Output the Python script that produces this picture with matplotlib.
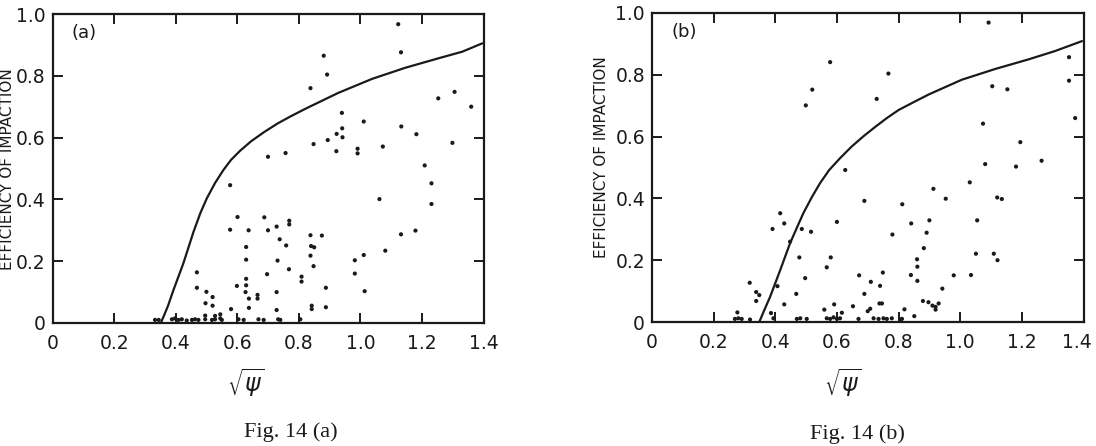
import matplotlib
matplotlib.use("Agg")
import matplotlib.pyplot as plt
from matplotlib.transforms import ScaledTranslation

# ---------------- data ----------------
# Panel (a) scattered observations
a_x = [0.838, 0.848, 0.700, 0.757, 0.577, 0.601, 0.577, 0.637, 0.688, 0.700, 0.728, 0.769, 0.769,
       0.738, 0.759, 0.838, 0.840, 0.850, 0.629, 0.629, 0.731, 0.768, 0.697, 0.838, 0.848, 0.809,
       0.809, 0.469, 0.469, 0.500, 0.520, 0.497, 0.520, 0.599, 0.629, 0.629, 0.627, 0.638, 0.666,
       0.666, 0.728, 0.728, 0.638, 0.580, 0.842, 0.842,
       1.123, 1.132, 0.881, 0.892, 1.253, 1.306, 1.360, 0.940, 1.011, 1.133, 1.182, 0.923, 0.941,
       0.942, 0.894, 0.922, 0.991, 0.991, 1.073, 1.299, 1.209, 1.231, 1.231, 1.062, 0.875, 1.132,
       1.179, 1.081, 1.011, 0.982, 0.982, 1.014, 0.888, 0.888,
       0.333, 0.388, 0.398, 0.409, 0.420, 0.436, 0.453, 0.463, 0.474, 0.496, 0.518, 0.528, 0.545,
       0.550, 0.604, 0.621, 0.669, 0.686, 0.740, 0.805, 0.496, 0.545, 0.528, 0.733, 0.345]
a_y = [0.760, 0.579, 0.538, 0.550, 0.446, 0.343, 0.302, 0.300, 0.342, 0.300, 0.312, 0.331, 0.319,
       0.271, 0.251, 0.284, 0.249, 0.245, 0.246, 0.205, 0.202, 0.174, 0.158, 0.218, 0.184, 0.150,
       0.134, 0.164, 0.114, 0.101, 0.084, 0.064, 0.056, 0.120, 0.143, 0.122, 0.100, 0.079, 0.091,
       0.079, 0.100, 0.042, 0.049, 0.045, 0.056, 0.045,
       0.967, 0.876, 0.865, 0.804, 0.727, 0.748, 0.700, 0.680, 0.652, 0.636, 0.611, 0.612, 0.630,
       0.601, 0.592, 0.556, 0.564, 0.549, 0.571, 0.583, 0.510, 0.452, 0.385, 0.401, 0.283, 0.287,
       0.299, 0.234, 0.220, 0.203, 0.160, 0.103, 0.114, 0.051,
       0.010, 0.012, 0.015, 0.010, 0.012, 0.008, 0.010, 0.012, 0.010, 0.012, 0.010, 0.012, 0.015,
       0.010, 0.012, 0.010, 0.012, 0.010, 0.010, 0.012, 0.024, 0.028, 0.023, 0.012, 0.010]

# Panel (a) theoretical curve
a_curve_x = [0.352, 0.375, 0.393, 0.425, 0.458, 0.480, 0.501, 0.528, 0.555, 0.580, 0.610, 0.645,
             0.686, 0.730, 0.772, 0.821, 0.854, 0.929, 1.038, 1.146, 1.255, 1.331, 1.396]
a_curve_y = [0.000, 0.055, 0.107, 0.193, 0.295, 0.355, 0.403, 0.453, 0.495, 0.528, 0.558, 0.588,
             0.617, 0.645, 0.668, 0.693, 0.709, 0.745, 0.790, 0.826, 0.857, 0.878, 0.905]

# Panel (b) scattered observations
b_x = [0.578, 0.767, 0.520, 0.499, 0.729, 0.627, 0.689, 0.812, 0.416, 0.429, 0.391, 0.486, 0.516,
       0.600, 0.780, 0.448, 0.478, 0.580, 0.567, 0.497, 0.672, 0.749, 0.710, 0.740, 0.689, 0.317,
       0.338, 0.348, 0.338, 0.407, 0.468, 0.429, 0.591, 0.652, 0.559, 0.738, 0.746, 0.700, 0.708,
       0.277, 0.386, 0.616,
       1.092, 1.353, 1.353, 1.373, 1.104, 1.153, 1.074, 1.195, 1.081, 1.181, 1.264, 1.031, 0.913,
       0.953, 1.120, 1.135, 0.841, 0.900, 1.055, 0.891, 0.882, 1.051, 1.109, 1.121, 0.860, 0.861,
       0.840, 0.861, 0.979, 1.035, 0.942, 0.879, 0.897, 0.910, 0.920, 0.920, 0.930, 0.819, 0.851,
       0.269, 0.280, 0.291, 0.318, 0.394, 0.470, 0.481, 0.502, 0.567, 0.578, 0.589, 0.600, 0.610,
       0.670, 0.719, 0.735, 0.751, 0.762, 0.778, 0.811, 0.805]
b_y = [0.841, 0.804, 0.752, 0.701, 0.722, 0.492, 0.392, 0.381, 0.352, 0.319, 0.301, 0.301, 0.292,
       0.324, 0.283, 0.260, 0.209, 0.209, 0.177, 0.142, 0.151, 0.160, 0.130, 0.117, 0.091, 0.127,
       0.097, 0.087, 0.068, 0.116, 0.091, 0.057, 0.057, 0.051, 0.040, 0.060, 0.060, 0.035, 0.043,
       0.031, 0.029, 0.030,
       0.969, 0.857, 0.781, 0.660, 0.763, 0.753, 0.642, 0.582, 0.511, 0.503, 0.522, 0.452, 0.431,
       0.399, 0.403, 0.398, 0.319, 0.329, 0.329, 0.289, 0.239, 0.221, 0.221, 0.200, 0.203, 0.179,
       0.152, 0.133, 0.151, 0.152, 0.108, 0.068, 0.064, 0.053, 0.049, 0.040, 0.060, 0.041, 0.019,
       0.010, 0.012, 0.010, 0.008, 0.012, 0.010, 0.012, 0.010, 0.012, 0.010, 0.015, 0.010, 0.012,
       0.010, 0.012, 0.010, 0.012, 0.010, 0.012, 0.010, 0.008]

# Panel (b) theoretical curve
b_curve_x = [0.348, 0.365, 0.383, 0.416, 0.448, 0.470, 0.491, 0.518, 0.545, 0.575, 0.610, 0.648,
             0.686, 0.725, 0.762, 0.800, 0.850, 0.897, 1.005, 1.114, 1.222, 1.308, 1.395]
b_curve_y = [0.000, 0.040, 0.081, 0.168, 0.255, 0.305, 0.352, 0.403, 0.449, 0.492, 0.530, 0.568,
             0.601, 0.632, 0.660, 0.686, 0.712, 0.736, 0.784, 0.819, 0.850, 0.877, 0.909]

x_ticks = [0, 0.2, 0.4, 0.6, 0.8, 1.0, 1.2, 1.4]
x_ticklabels = ["0", "0.2", "0.4", "0.6", "0.8", "1.0", "1.2", "1.4"]
y_ticks = [0, 0.2, 0.4, 0.6, 0.8, 1.0]
y_ticklabels = ["0", "0.2", "0.4", "0.6", "0.8", "1.0"]

ylabel = "EFFICIENCY OF IMPACTION"
panel_tags = ["(a)", "(b)"]
captions = ["Fig. 14 (a)", "Fig. 14 (b)"]

# ---------------- figure ----------------
W, H = 1096, 446
INK = "#1a1a1a"
fig = plt.figure(figsize=(W / 100, H / 100), dpi=100)

def px_axes(l, r, t, b):
    return [l / W, 1 - b / H, (r - l) / W, (b - t) / H]

ax1 = fig.add_axes(px_axes(52.5, 483.5, 14, 323))
ax2 = fig.add_axes(px_axes(652, 1083.5, 13, 322))

panels = [
    (ax1, a_x, a_y, a_curve_x, a_curve_y),
    (ax2, b_x, b_y, b_curve_x, b_curve_y),
]

for i, (ax, sx, sy, cx, cy) in enumerate(panels):
    ax.plot(cx, cy, color=INK, lw=1.6, solid_capstyle="round", solid_joinstyle="round", zorder=3)
    ax.scatter(sx, sy, s=9, color=INK, edgecolors="none", zorder=4, clip_on=False)
    ax.set_xlim(0, 1.4)
    ax.set_ylim(0, 1.0)
    ax.set_xticks(x_ticks)
    ax.set_xticklabels(x_ticklabels)
    ax.set_yticks(y_ticks)
    ax.set_yticklabels(y_ticklabels)
    ax.tick_params(direction="in", top=True, right=True, length=7, width=1.4,
                   labelsize=13.5, pad=5, colors=INK)
    ax.tick_params(axis="x", pad=8)
    for sp in ax.spines.values():
        sp.set_linewidth(1.6)
        sp.set_color(INK)
    ax.text(0.045, 0.94, panel_tags[i], transform=ax.transAxes, fontsize=13,
            ha="left", va="center", color=INK)

# keep the last x tick label of panel (b) inside the page
last = ax2.get_xticklabels()[-1]
last.set_transform(last.get_transform() + ScaledTranslation(-7 / 100, 0, fig.dpi_scale_trans))

# y labels
fig.text(8 / W, 1 - 169 / H, ylabel, rotation=90, ha="center", va="center",
         fontsize=11, color=INK)
fig.text(602 / W, 1 - 157 / H, ylabel, rotation=90, ha="center", va="center",
         fontsize=11, color=INK)

# x labels
fig.text(246 / W, 1 - 383 / H, r"$\sqrt{\psi}$", ha="center", va="center",
         fontsize=17, color=INK)
fig.text(843 / W, 1 - 383 / H, r"$\sqrt{\psi}$", ha="center", va="center",
         fontsize=17, color=INK)

# captions
fig.text(291 / W, 1 - 432 / H, captions[0], ha="center", va="center",
         fontsize=16, family=["Liberation Serif", "DejaVu Serif"], color=INK)
fig.text(857 / W, 1 - 434 / H, captions[1], ha="center", va="center",
         fontsize=16, family=["Liberation Serif", "DejaVu Serif"], color=INK)

fig.savefig("out.png", dpi=100, facecolor="white")
